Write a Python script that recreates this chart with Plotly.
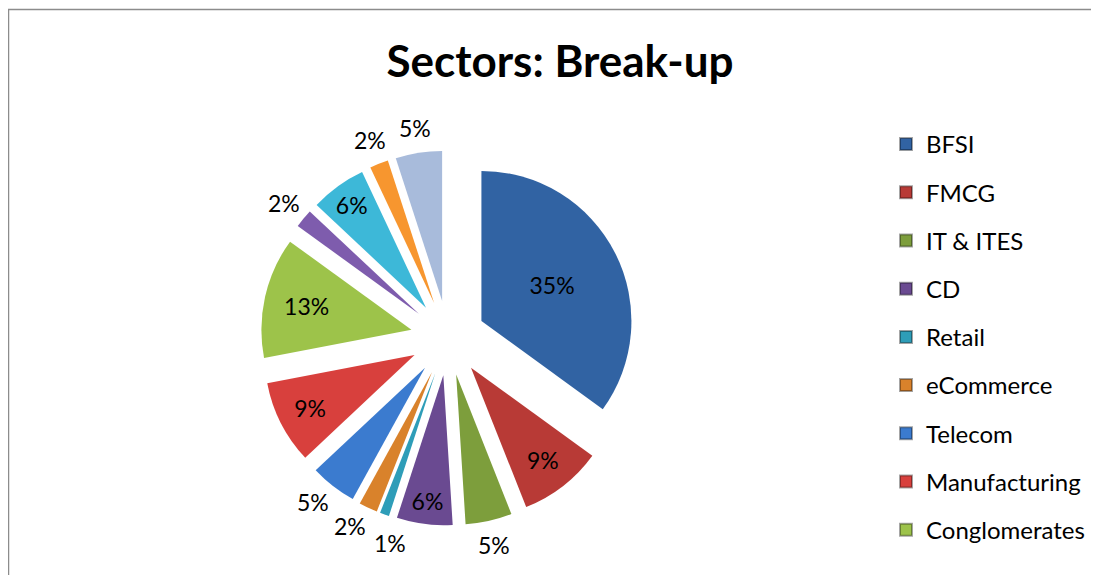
import math
import plotly.graph_objects as go

# ---- data ----
sectors = ["BFSI", "FMCG", "IT & ITES", "CD", "Retail", "eCommerce", "Telecom",
           "Manufacturing", "Conglomerates", "Other 1", "Other 2", "Other 3", "Other 4"]
shares = [35, 9, 5, 6, 1, 2, 5, 9, 13, 2, 6, 2, 5]
legend_sectors = sectors[:9]

colors = ["#3163A3", "#B83A36", "#7D9E3C", "#6A4A91", "#2E9DB8", "#D9822B", "#3B7BCF",
          "#D8403D", "#9DC34A", "#7E5CAD", "#3DB8D8", "#F7962F", "#A8BBDB"]
inside = [True, True, False, True, False, False, False, True, True, False, True, False, False]

W, H = 1099, 575
OFF = 8  # page body margin: figure pixel = screen pixel - OFF
FONT = "Lato"
PULL = 0.25
LABEL_SIZE = 23


def px(X):
    return (X - OFF) / W


def py(Y):
    return 1 - (Y - OFF) / H


# pie placement (screen pixels)
cx, cy, half = 448, 338, 187.5

fig = go.Figure()
fig.add_trace(go.Pie(
    labels=sectors, values=shares, sort=False, direction="clockwise", rotation=0,
    pull=[PULL] * len(shares),
    marker=dict(colors=colors, line=dict(width=0)),
    texttemplate="%{percent:.0%}",
    textposition=["inside" if f else "none" for f in inside],
    insidetextorientation="horizontal",
    textfont=dict(family=FONT, size=LABEL_SIZE, color="black"),
    showlegend=False, hoverinfo="label+percent",
    domain=dict(x=[px(cx - half), px(cx + half)],
                y=[py(cy + half), py(cy - half)]),
))

# outside labels for the thin slices, placed from the data's angles
total = sum(shares)
cum = 0
outs = []
for v, f in zip(shares, inside):
    mid = (cum + v / 2) / total * 360
    cum += v
    if not f:
        outs.append([mid, v])
R_lab = half + 25
min_sep = math.degrees(44 / R_lab)
for _ in range(60):
    outs.sort(key=lambda o: o[0])
    for a, b in zip(outs, outs[1:]):
        d = b[0] - a[0]
        if d < min_sep:
            push = (min_sep - d) / 2
            a[0] -= push
            b[0] += push
annotations = []
for ang, v in outs:
    t = math.radians(ang)
    X = cx + R_lab * math.sin(t)
    Y = cy - R_lab * math.cos(t)
    annotations.append(dict(
        x=px(X), y=py(Y), xref="paper", yref="paper", showarrow=False,
        text=f"{round(100 * v / total)}%", xanchor="center", yanchor="middle",
        font=dict(family=FONT, size=LABEL_SIZE, color="black")))

for name, col in zip(legend_sectors, colors[:9]):
    fig.add_trace(go.Scatter(
        x=[None], y=[None], mode="markers", name=name, legendgroup=name,
        marker=dict(symbol="square", size=15, color=col,
                    line=dict(width=1, color="rgba(0,0,0,0.35)")),
    ))

fig.update_layout(
    width=W, height=H,
    margin=dict(l=0, r=0, t=0, b=0, autoexpand=False),
    paper_bgcolor="white", plot_bgcolor="white",
    title=dict(text="<b>Sectors: Break-up</b>", x=px(560), xanchor="center",
               y=py(62), yanchor="middle",
               font=dict(family=FONT, size=44, color="black")),
    xaxis=dict(visible=False), yaxis=dict(visible=False),
    uniformtext=dict(minsize=LABEL_SIZE, mode="show"),
    legend=dict(x=px(886), xanchor="left", y=py(122), yanchor="top",
                traceorder="grouped", tracegroupgap=14,
                font=dict(family=FONT, size=24, color="black"),
                bgcolor="rgba(0,0,0,0)", itemsizing="constant"),
    annotations=annotations,
    shapes=[dict(type="rect", xref="paper", yref="paper",
                 x0=0.5 / W, x1=1.02, y0=-0.02, y1=py(9.5),
                 line=dict(color="#8c8c8c", width=1.5))],
)

fig.write_html("out.html")
